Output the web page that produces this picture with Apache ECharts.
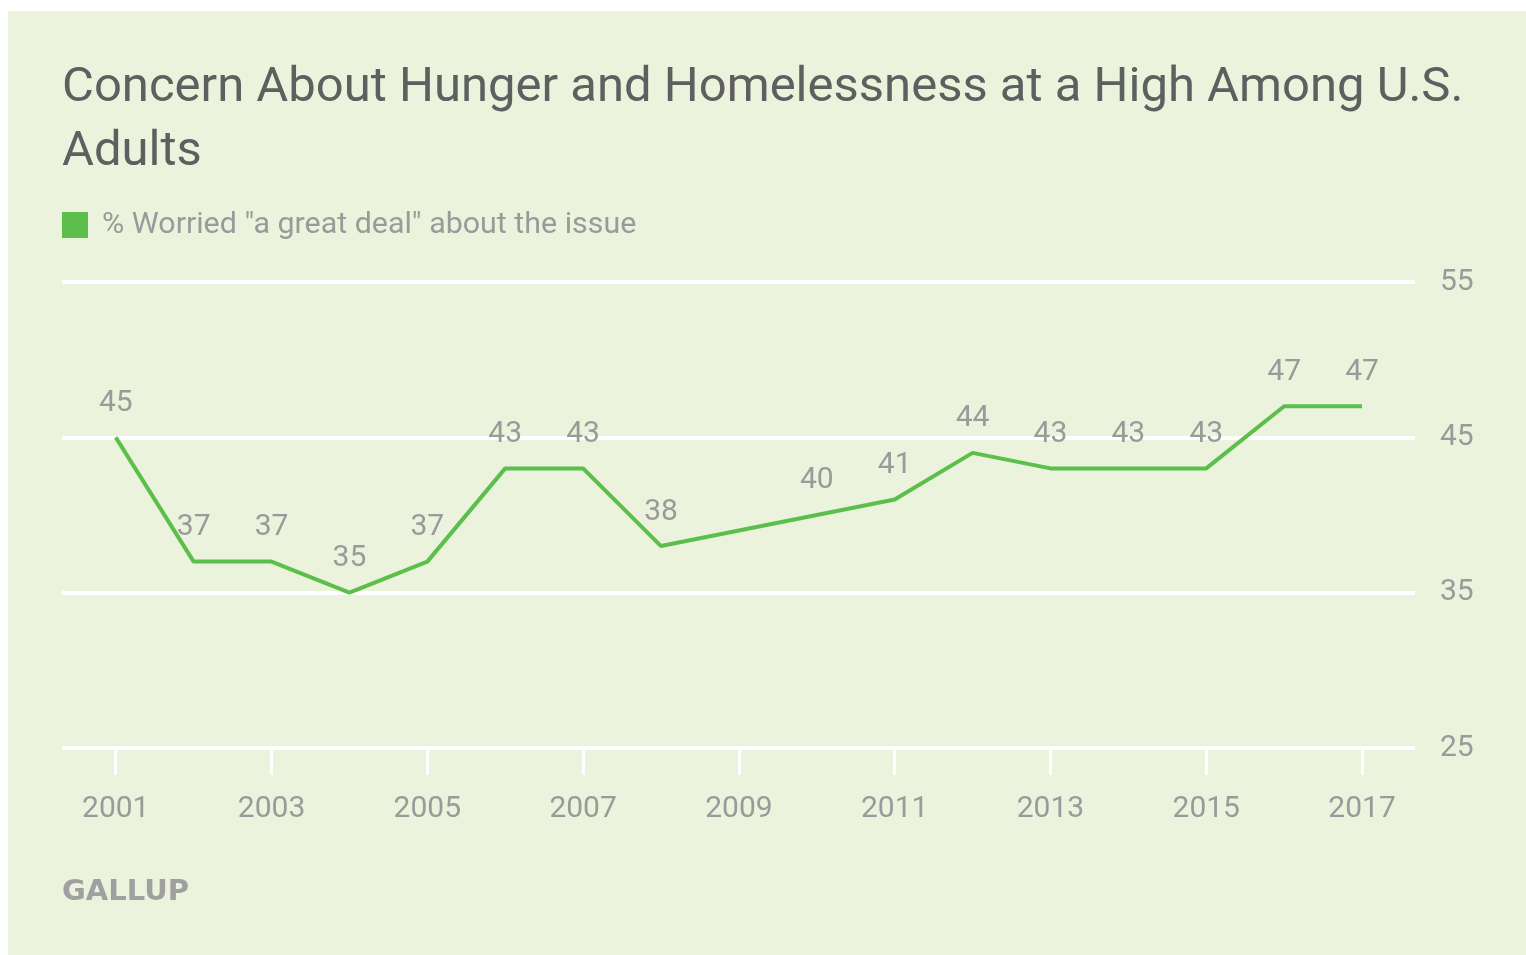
<!DOCTYPE html>
<html>
<head>
<meta charset="utf-8">
<script src="https://cdn.jsdelivr.net/npm/echarts@6/dist/echarts.min.js"></script>
<style>
html,body{margin:0;padding:0;background:#ffffff;}
#chart{width:1526px;height:955px;}
</style>
</head>
<body>
<div id="chart"></div>
<script>
var years = [2001,2002,2003,2004,2005,2006,2007,2008,2009,2010,2011,2012,2013,2014,2015,2016,2017];
var worried = [45,37,37,35,37,43,43,38,null,40,41,44,43,43,43,47,47];
var xTickYears = [2001,2003,2005,2007,2009,2011,2013,2015,2017];
var seriesName = '% Worried "a great deal" about the issue';
var titleText = 'Concern About Hunger and Homelessness at a High Among U.S.\nAdults';

var chart = echarts.init(document.getElementById('chart'));
var fontFam = 'Roboto, "Noto Sans", sans-serif';
chart.setOption({
  animation: false,
  backgroundColor: '#ffffff',
  graphic: [
    {type:'rect', left: 8, top: 11, shape:{width:1518, height:944}, style:{fill:'#ebf3dc'}, z:-10},
    {type:'text', left: 62, top: 878, style:{text:'GALLUP', fill:'#a0a0a0', font:'bold 29px "DejaVu Sans", sans-serif'}}
  ],
  title: {
    text: titleText,
    left: 57, top: 52,
    textStyle: {color:'#5f5f5f', fontSize: 49, fontWeight: 'normal', fontFamily: fontFam, lineHeight: 64}
  },
  legend: {
    left: 57, top: 205,
    itemWidth: 26, itemHeight: 26,
    icon: 'rect',
    itemGap: 10,
    textStyle: {color:'#9a9a9a', fontSize: 30.4, fontFamily: fontFam, padding: [0,0,0,9]},
    data: [seriesName]
  },
  grid: {left: 62, right: 111, top: 282, bottom: 207, outerBoundsMode: 'none'},
  xAxis: {
    type: 'value',
    min: 2000.31, max: 2017.68,
    axisLine: {show:false},
    splitLine: {show:false},
    axisTick: {show:true, customValues: xTickYears, length: 27, lineStyle:{color:'#ffffff', width:3}},
    axisLabel: {customValues: xTickYears, color:'#9a9a9a', fontSize: 30, fontFamily: fontFam, margin: 46,
      formatter: function(v){return String(v);}}
  },
  yAxis: {
    type: 'value',
    position: 'right',
    min: 25, max: 55, interval: 10,
    axisLine: {show:false},
    axisTick: {show:false},
    splitLine: {show:true, lineStyle:{color:'#ffffff', width:4}},
    axisLabel: {color:'#9a9a9a', fontSize: 30, fontFamily: fontFam, margin: 25}
  },
  series: [{
    name: seriesName,
    type: 'line',
    data: years.map(function(y,i){return [y, worried[i]];}),
    connectNulls: true,
    symbol: 'circle',
    symbolSize: 0.1,
    showSymbol: true,
    lineStyle: {color:'#5cbf4b', width: 4},
    itemStyle: {color:'#5cbf4b'},
    label: {show:true, position:'top', distance: 19, color:'#9a9a9a', fontSize: 30, fontFamily: fontFam,
      formatter: function(p){return p.value[1];}}
  }]
});
</script>
</body>
</html>
